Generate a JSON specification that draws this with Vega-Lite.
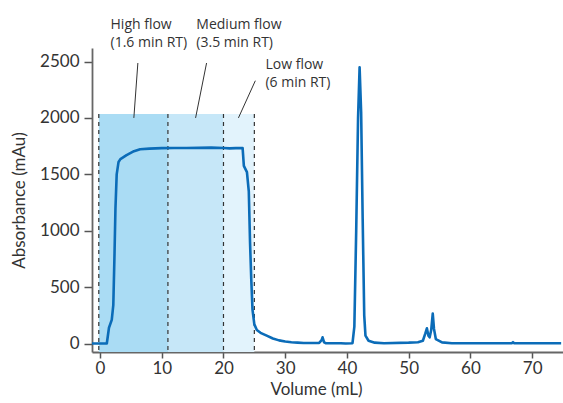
{
  "$schema": "https://vega.github.io/schema/vega-lite/v6.json",
  "width": 471,
  "height": 304,
  "autosize": {"type": "none"},
  "padding": {"left": 92, "top": 48, "right": 0, "bottom": 51},
  "background": "white",
  "config": {
    "view": {"stroke": null},
    "font": "Lato",
    "axis": {
      "grid": false,
      "labelFont": "Lato",
      "labelFontSize": 17,
      "labelColor": "#333333",
      "titleFont": "Lato",
      "titleFontSize": 17,
      "titleFontWeight": "normal",
      "titleColor": "#333333",
      "domainColor": "#666666",
      "domainWidth": 1.8,
      "tickColor": "#555555",
      "tickWidth": 1.5,
      "tickSize": 7
    }
  },
  "datasets": {
    "trace": [
      {"v": -1.3, "a": 0}, {"v": 1.1, "a": 0}, {"v": 1.45, "a": 140}, {"v": 1.9, "a": 210},
      {"v": 2.15, "a": 340}, {"v": 2.35, "a": 800}, {"v": 2.5, "a": 1200}, {"v": 2.7, "a": 1500},
      {"v": 3.0, "a": 1610}, {"v": 3.3, "a": 1635}, {"v": 4.3, "a": 1670}, {"v": 5.5, "a": 1705},
      {"v": 6.5, "a": 1722}, {"v": 8, "a": 1728}, {"v": 10, "a": 1732}, {"v": 12, "a": 1733},
      {"v": 14, "a": 1733}, {"v": 16, "a": 1735}, {"v": 18, "a": 1737}, {"v": 20, "a": 1733},
      {"v": 21, "a": 1730}, {"v": 22, "a": 1732}, {"v": 23.1, "a": 1732}, {"v": 23.3, "a": 1575},
      {"v": 23.8, "a": 1520}, {"v": 24.1, "a": 1350}, {"v": 24.3, "a": 900}, {"v": 24.5, "a": 570},
      {"v": 24.7, "a": 300}, {"v": 25.0, "a": 170}, {"v": 25.4, "a": 120}, {"v": 26, "a": 95},
      {"v": 27, "a": 70}, {"v": 28, "a": 45}, {"v": 29, "a": 28}, {"v": 30, "a": 18},
      {"v": 31, "a": 12}, {"v": 32, "a": 8}, {"v": 33, "a": 5}, {"v": 35.5, "a": 5},
      {"v": 35.9, "a": 30}, {"v": 36.05, "a": 55}, {"v": 36.3, "a": 10}, {"v": 36.6, "a": 3},
      {"v": 39, "a": 3}, {"v": 39.8, "a": 0}, {"v": 40.9, "a": 3}, {"v": 41.2, "a": 150},
      {"v": 41.5, "a": 1000}, {"v": 41.8, "a": 2000}, {"v": 42.05, "a": 2450}, {"v": 42.3, "a": 2050},
      {"v": 42.55, "a": 1100}, {"v": 42.8, "a": 250}, {"v": 43.0, "a": 70}, {"v": 43.5, "a": 25},
      {"v": 44.5, "a": 8}, {"v": 46, "a": 3}, {"v": 50, "a": 8}, {"v": 51.5, "a": 12},
      {"v": 52.3, "a": 25}, {"v": 52.7, "a": 90}, {"v": 52.95, "a": 135}, {"v": 53.2, "a": 70},
      {"v": 53.4, "a": 55}, {"v": 53.65, "a": 120}, {"v": 53.9, "a": 265}, {"v": 54.1, "a": 130},
      {"v": 54.4, "a": 40}, {"v": 55.4, "a": 10}, {"v": 57, "a": 3}, {"v": 66.7, "a": 3},
      {"v": 66.9, "a": 12}, {"v": 67.1, "a": 3}, {"v": 74.7, "a": 2}
    ],
    "zones": [
      {"x0": -0.2, "x1": 11, "zone": "high"},
      {"x0": 11, "x1": 20, "zone": "medium"},
      {"x0": 20, "x1": 25, "zone": "low"}
    ],
    "dividers": [{"x": -0.2}, {"x": 11}, {"x": 20}, {"x": 25}],
    "leaders": [
      {"x": 6.13, "y": 2487, "x2": 5.48, "y2": 2000},
      {"x": 17.26, "y": 2487, "x2": 15.48, "y2": 2000},
      {"x": 25.16, "y": 2330, "x2": 22.42, "y2": 2000}
    ],
    "labels": [
      {"x": 1.7, "y": 2791, "t": "High flow\n(1.6 min RT)"},
      {"x": 15.6, "y": 2791, "t": "Medium flow\n(3.5 min RT)"},
      {"x": 26.8, "y": 2435, "t": "Low flow\n(6 min RT)"}
    ]
  },
  "layer": [
    {
      "data": {"name": "zones"},
      "mark": {"type": "rect"},
      "encoding": {
        "x": {"field": "x0", "type": "quantitative", "scale": {"domain": [-1.3, 75], "nice": false, "zero": false},
          "axis": {"values": [0, 10, 20, 30, 40, 50, 60, 70], "format": "d", "title": "Volume (mL)", "titlePadding": 5, "labelPadding": 2, "tickSize": 6, "titleX": 224, "titleAnchor": "start", "titleAlign": "center"}},
        "x2": {"field": "x1"},
        "y": {"datum": 2035, "type": "quantitative", "scale": {"domain": [-75, 2620], "nice": false, "zero": false},
          "axis": {"values": [0, 500, 1000, 1500, 2000, 2500], "format": "d", "title": "Absorbance (mAu)", "titlePadding": 11, "labelPadding": 5, "tickSize": 8}},
        "y2": {"datum": -75},
        "color": {"field": "zone", "type": "nominal", "scale": {"domain": ["high", "medium", "low"], "range": ["#aadcf4", "#c6e7f8", "#e2f3fc"]}, "legend": null}
      }
    },
    {
      "data": {"name": "dividers"},
      "mark": {"type": "rule", "color": "#333333", "strokeDash": [4, 4], "strokeWidth": 1.2},
      "encoding": {
        "x": {"field": "x", "type": "quantitative"},
        "y": {"datum": 2035, "type": "quantitative"},
        "y2": {"datum": -75}
      }
    },
    {
      "data": {"name": "trace"},
      "mark": {"type": "line", "color": "#0b6cb8", "strokeWidth": 2.6, "strokeJoin": "round"},
      "encoding": {
        "x": {"field": "v", "type": "quantitative"},
        "y": {"field": "a", "type": "quantitative"}
      }
    },
    {
      "data": {"name": "leaders"},
      "mark": {"type": "rule", "color": "#333333", "strokeWidth": 1},
      "encoding": {
        "x": {"field": "x", "type": "quantitative"},
        "y": {"field": "y", "type": "quantitative"},
        "x2": {"field": "x2"},
        "y2": {"field": "y2"}
      }
    },
    {
      "data": {"name": "labels"},
      "mark": {"type": "text", "align": "left", "baseline": "alphabetic", "fontSize": 14, "lineHeight": 18, "lineBreak": "\n", "color": "#333333", "font": "Open Sans"},
      "encoding": {
        "x": {"field": "x", "type": "quantitative"},
        "y": {"field": "y", "type": "quantitative"},
        "text": {"field": "t"}
      }
    }
  ]
}
